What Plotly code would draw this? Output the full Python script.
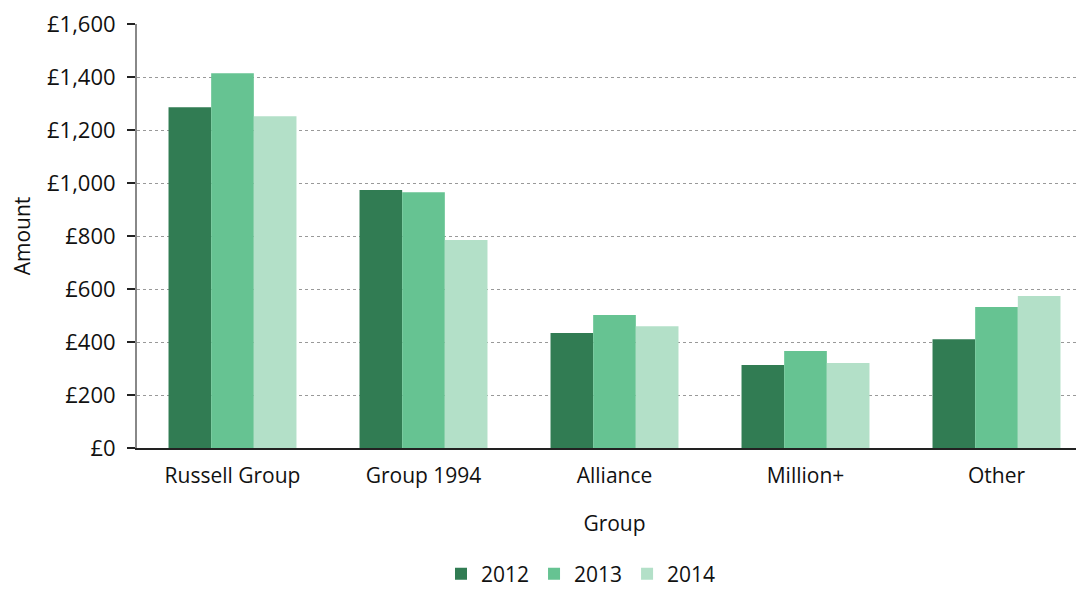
import plotly.graph_objects as go

groups = ["Russell Group", "Group 1994", "Alliance", "Million+", "Other"]
years = ["2012", "2013", "2014"]
v2012 = [1287, 974, 434, 313, 411]
v2013 = [1415, 966, 502, 366, 532]
v2014 = [1253, 785, 460, 321, 574]
colors = ["#317c53", "#66c392", "#b3e0c8"]
yticks = [0, 200, 400, 600, 800, 1000, 1200, 1400, 1600]
yticklabels = ["£0", "£200", "£400", "£600", "£800", "£1,000", "£1,200", "£1,400", "£1,600"]

fig = go.Figure()
for yr, vals, c in zip(years, [v2012, v2013, v2014], colors):
    fig.add_trace(go.Bar(name=yr, x=groups, y=vals, marker=dict(color=c, line=dict(width=0))))

fig.update_layout(
    width=1084, height=582,
    margin=dict(l=129, r=0, t=16, b=142),
    barmode="group", bargap=0.33, bargroupgap=0,
    plot_bgcolor="white", paper_bgcolor="white",
    font=dict(family="Open Sans, Noto Sans, sans-serif", size=21, color="#111"),
    legend=dict(orientation="h", x=573 / 1084, xanchor="center", xref="container",
                y=16 / 582, yanchor="middle", yref="container",
                font=dict(size=21), itemwidth=30, traceorder="normal"),
    xaxis=dict(title=dict(text="Group", font=dict(size=21), standoff=28),
               showline=True, linecolor="#222", linewidth=2, ticks="",
               tickfont=dict(size=21), automargin=False, ticklabelstandoff=8),
    yaxis=dict(title=dict(text="Amount", font=dict(size=21), standoff=12),
               range=[0, 1601], tickvals=yticks, ticktext=yticklabels,
               showline=True, linecolor="#888", linewidth=2,
               ticks="outside", ticklen=8, tickcolor="#222", tickwidth=2,
               showgrid=True, gridcolor="#999", griddash="dot", gridwidth=1,
               zeroline=False, tickfont=dict(size=22), automargin=False,
               ticklabelstandoff=7, ticklabeloverflow="allow"),
)
fig.write_html("out.html")
